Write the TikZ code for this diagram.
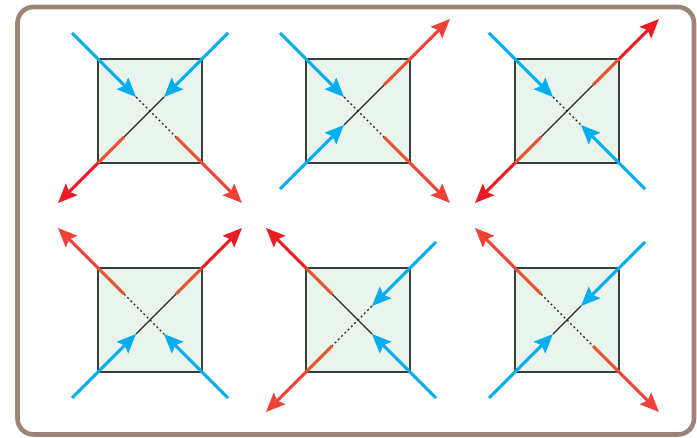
\documentclass[tikz,border=0pt]{standalone}
\usetikzlibrary{arrows.meta,calc}
\definecolor{framec}{HTML}{9C8577}
\definecolor{boxfill}{HTML}{E9F4EC}
\definecolor{boxline}{HTML}{3A3D3B}
\definecolor{cyanb}{HTML}{00AEEF}
\definecolor{redA}{HTML}{ED1C24}
\definecolor{redB}{HTML}{EF4136}
\definecolor{redin}{HTML}{E4572E}
\tikzset{
  panelbox/.style={draw=boxline, fill=boxfill, line width=2pt, minimum size=104pt, inner sep=0pt, outer sep=0pt},
  inarrow/.style={draw=cyanb, line width=3pt, -{Stealth[length=19pt,width=16pt,inset=3pt]}},
  redinner/.style={draw=redin, line width=3pt},
  outarrow/.style={line width=3pt, -{Stealth[length=19pt,width=16pt,inset=3pt]}},
  solidpath/.style={draw=black!85, line width=1.1pt},
  dotpath/.style={draw=black!85, line width=1.2pt, dash pattern=on 2pt off 2.6pt},
}
% blue incoming end: panel, dir, sx, sy
\newcommand\bluein[4]{%
  \coordinate (#1-#2-o) at ($(#1)+(#3*78,#4*78)$);
  \coordinate (#1-#2-i) at ($(#1)+(#3*14,#4*14)$);
  \draw[inarrow] (#1-#2-o) -- (#1-#2-i);
}
% red outgoing end: panel, dir, sx, sy, colour
\newcommand\redout[5]{%
  \coordinate (#1-#2-i) at ($(#1)+(#3*26,#4*26)$);
  \coordinate (#1-#2-c) at ($(#1)+(#3*52,#4*52)$);
  \coordinate (#1-#2-o) at ($(#1)+(#3*92,#4*92)$);
  \draw[redinner] (#1-#2-i) -- (#1-#2-c);
  \draw[outarrow, draw=#5, fill=#5] (#1-#2-c) -- (#1-#2-o);
}
\begin{document}
\begin{tikzpicture}[x=1pt,y=-1pt]
\useasboundingbox (0,0) rectangle (697,438);
\draw[framec, line width=4.6pt, rounded corners=16pt] (17.5,7) rectangle (694,434.5);

% panel 1
\node[panelbox] (p1) at (150,111) {};
\coordinate (p1-nw-i) at ($(p1)+(-14,-14)$);
\coordinate (p1-se-i) at ($(p1)+(26,26)$);
\coordinate (p1-ne-i) at ($(p1)+(14,-14)$);
\coordinate (p1-sw-i) at ($(p1)+(-26,26)$);
\draw[dotpath] (p1-nw-i) -- (p1-se-i);
\draw[solidpath] (p1-ne-i) -- (p1-sw-i);
\bluein{p1}{nw}{-1}{-1}
\redout{p1}{se}{1}{1}{redB}
\bluein{p1}{ne}{1}{-1}
\redout{p1}{sw}{-1}{1}{redA}

% panel 2
\node[panelbox] (p2) at (358,111) {};
\coordinate (p2-nw-i) at ($(p2)+(-14,-14)$);
\coordinate (p2-se-i) at ($(p2)+(26,26)$);
\coordinate (p2-sw-i) at ($(p2)+(-14,14)$);
\coordinate (p2-ne-i) at ($(p2)+(26,-26)$);
\draw[dotpath] (p2-nw-i) -- (p2-se-i);
\draw[solidpath] (p2-sw-i) -- (p2-ne-i);
\bluein{p2}{nw}{-1}{-1}
\redout{p2}{se}{1}{1}{redB}
\bluein{p2}{sw}{-1}{1}
\redout{p2}{ne}{1}{-1}{redB}

% panel 3
\node[panelbox] (p3) at (567,111) {};
\coordinate (p3-nw-i) at ($(p3)+(-14,-14)$);
\coordinate (p3-se-i) at ($(p3)+(14,14)$);
\coordinate (p3-ne-i) at ($(p3)+(26,-26)$);
\coordinate (p3-sw-i) at ($(p3)+(-26,26)$);
\draw[dotpath] (p3-nw-i) -- (p3-se-i);
\draw[solidpath] (p3-ne-i) -- (p3-sw-i);
\bluein{p3}{nw}{-1}{-1}
\bluein{p3}{se}{1}{1}
\redout{p3}{ne}{1}{-1}{redA}
\redout{p3}{sw}{-1}{1}{redA}

% panel 4
\node[panelbox] (p4) at (150,320) {};
\coordinate (p4-nw-i) at ($(p4)+(-26,-26)$);
\coordinate (p4-se-i) at ($(p4)+(14,14)$);
\coordinate (p4-ne-i) at ($(p4)+(26,-26)$);
\coordinate (p4-sw-i) at ($(p4)+(-14,14)$);
\draw[dotpath] (p4-nw-i) -- (p4-se-i);
\draw[solidpath] (p4-ne-i) -- (p4-sw-i);
\redout{p4}{nw}{-1}{-1}{redB}
\bluein{p4}{se}{1}{1}
\redout{p4}{ne}{1}{-1}{redA}
\bluein{p4}{sw}{-1}{1}

% panel 5
\node[panelbox] (p5) at (358,320) {};
\coordinate (p5-nw-i) at ($(p5)+(-26,-26)$);
\coordinate (p5-se-i) at ($(p5)+(14,14)$);
\coordinate (p5-ne-i) at ($(p5)+(14,-14)$);
\coordinate (p5-sw-i) at ($(p5)+(-26,26)$);
\draw[dotpath] (p5-ne-i) -- (p5-sw-i);
\draw[solidpath] (p5-nw-i) -- (p5-se-i);
\redout{p5}{nw}{-1}{-1}{redA}
\bluein{p5}{se}{1}{1}
\bluein{p5}{ne}{1}{-1}
\redout{p5}{sw}{-1}{1}{redB}

% panel 6
\node[panelbox] (p6) at (567,320) {};
\coordinate (p6-nw-i) at ($(p6)+(-26,-26)$);
\coordinate (p6-se-i) at ($(p6)+(26,26)$);
\coordinate (p6-ne-i) at ($(p6)+(14,-14)$);
\coordinate (p6-sw-i) at ($(p6)+(-14,14)$);
\draw[dotpath] (p6-nw-i) -- (p6-se-i);
\draw[solidpath] (p6-ne-i) -- (p6-sw-i);
\redout{p6}{nw}{-1}{-1}{redB}
\redout{p6}{se}{1}{1}{redB}
\bluein{p6}{ne}{1}{-1}
\bluein{p6}{sw}{-1}{1}
\end{tikzpicture}
\end{document}
